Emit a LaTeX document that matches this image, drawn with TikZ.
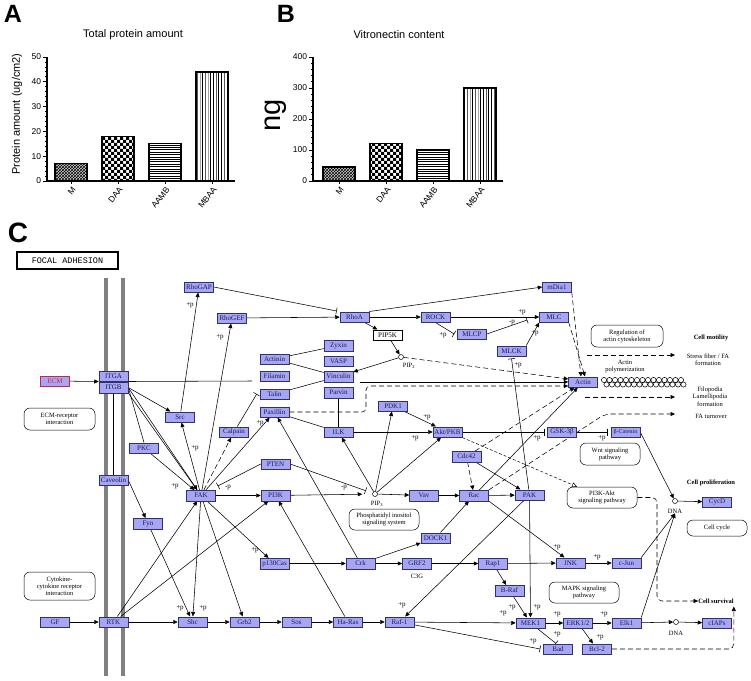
\documentclass[tikz,border=0pt]{standalone}
\usepackage{fontspec}
\setmainfont{Liberation Serif}
\newfontfamily\arialfont{Liberation Sans}
\newfontfamily\courfont{Liberation Mono}
\usepackage{tikz}
\usetikzlibrary{arrows.meta,patterns,backgrounds}
\definecolor{genefill}{HTML}{A6A6F4}
\definecolor{geneline}{HTML}{30306A}
\definecolor{genetext}{HTML}{1A1A5A}
\definecolor{memgray}{HTML}{808080}
\definecolor{ecmred}{HTML}{D0204A}

% bar fillings
\pgfdeclarepatternformonly{finechecker}{\pgfqpoint{-0.5pt}{-0.5pt}}{\pgfqpoint{6.5pt}{6.5pt}}{\pgfqpoint{6pt}{6pt}}{%
  \pgfpathrectangle{\pgfpointorigin}{\pgfqpoint{3.05pt}{3.05pt}}%
  \pgfpathrectangle{\pgfqpoint{3pt}{3pt}}{\pgfqpoint{3.05pt}{3.05pt}}%
  \pgfusepath{fill}}
\pgfdeclarepatternformonly{finehlines}{\pgfqpoint{-1pt}{-0.5pt}}{\pgfqpoint{4pt}{0.5pt}}{\pgfqpoint{3pt}{2.4pt}}{%
  \pgfsetlinewidth{0.5pt}\pgfpathmoveto{\pgfqpoint{-0.1pt}{0pt}}\pgfpathlineto{\pgfqpoint{3.1pt}{0pt}}\pgfusepath{stroke}}
\pgfdeclarepatternformonly{finevlines}{\pgfqpoint{-0.5pt}{-1pt}}{\pgfqpoint{0.5pt}{4pt}}{\pgfqpoint{2.7pt}{3pt}}{%
  \pgfsetlinewidth{0.5pt}\pgfpathmoveto{\pgfqpoint{0pt}{-0.1pt}}\pgfpathlineto{\pgfqpoint{0pt}{3.1pt}}\pgfusepath{stroke}}

\tikzset{
  gene/.style={draw=geneline, fill=genefill, text=genetext, minimum width=29pt, minimum height=10.5pt, inner sep=0pt, line width=0.5pt, font=\fontsize{7}{7}\selectfont},
  cmpd/.style={circle, draw, fill=white, minimum size=5pt, inner sep=0pt, line width=0.5pt},
  mapbox/.style={draw, rounded corners=6pt, align=center, inner sep=1pt, line width=0.5pt, font=\fontsize{6.5}{7}\selectfont},
  act/.style={-{Triangle[length=4.5pt,width=4pt]}, line width=0.55pt},
  inh/.style={-{Bar[width=7pt]}, line width=0.55pt},
  dact/.style={act, dash pattern=on 5pt off 3pt},
  dopen/.style={-{Triangle[open,length=5pt,width=5pt]}, dash pattern=on 3pt off 2pt, line width=0.5pt},
  link/.style={line width=0.55pt},
  plabel/.style={font=\fontsize{7}{7}\selectfont, inner sep=0pt},
  effect/.style={font=\fontsize{6.5}{7}\selectfont, align=center, inner sep=0pt},
  outcome/.style={font=\fontsize{6.5}{7}\selectfont\bfseries, inner sep=0pt},
  membrane/.style={draw=memgray, line width=3.5pt},
  panellabel/.style={font=\arialfont\fontsize{25}{25}\selectfont\bfseries, inner sep=0pt},
  charttitle/.style={font=\arialfont\fontsize{11}{11}\selectfont, inner sep=0pt},
  axisline/.style={line width=1.3pt},
  histbar/.style={draw, line width=1.3pt},
  ticklabel/.style={font=\arialfont\fontsize{8.5}{8.5}\selectfont, inner sep=1pt},
  xlab/.style={font=\arialfont\fontsize{8.5}{8.5}\selectfont, rotate=52, anchor=east, inner sep=0pt},
}

\begin{document}
\begin{tikzpicture}[x=1pt, y=-1pt]
\useasboundingbox (0,0) rectangle (751,680);

%panel A
\node[panellabel] (labA) at (13,14) {A};
\node[charttitle] (titA) at (133,35) {Total protein amount};
\node[charttitle, rotate=90] (ylabA) at (17,114) {Protein amount (ug/cm2)};
\draw[axisline] (47,57) -- (47,181) -- (235,181);
\foreach \v in {0,2,...,50}
  \draw[line width=0.8pt] (47,{181-2.48*\v}) -- ++(-2.5,0);
\foreach \v in {0,10,...,50}
  \draw[line width=1pt] (47,{181-2.48*\v}) -- ++(-4.5,0) node[ticklabel, left] (tickA\v) {\v};
\draw[histbar, preaction={fill=gray!35}, pattern=crosshatch] (55,181) rectangle (87,{181-2.48*7});
\draw[histbar, pattern=finechecker] (102,181) rectangle (134,{181-2.48*18});
\draw[histbar, pattern=finehlines] (149,181) rectangle (181,{181-2.48*15});
\draw[histbar, pattern=finevlines] (196,181) rectangle (228,{181-2.48*44});
\foreach \lab/\xx [count=\i] in {M/71,DAA/118,AAMB/165,MBAA/212}{
  \draw[line width=1pt] (\xx,181) -- ++(0,3);
  \node[xlab] (xlabA\i) at (\xx+3,188) {\lab};
}

%panel B
\node[panellabel] (labB) at (286,14) {B};
\node[charttitle] (titB) at (399,35) {Vitronectin content};
\node[font=\arialfont\fontsize{29}{29}\selectfont, rotate=90, inner sep=0pt] (ylabB) at (276,115) {ng};
\draw[axisline] (313,57) -- (313,181) -- (503,181);
\foreach \v in {0,20,...,400}
  \draw[line width=0.8pt] (313,{181-0.31*\v}) -- ++(-2.5,0);
\foreach \v in {0,100,...,400}
  \draw[line width=1pt] (313,{181-0.31*\v}) -- ++(-4.5,0) node[ticklabel, left] (tickB\v) {\v};
\draw[histbar, preaction={fill=gray!35}, pattern=crosshatch] (323,181) rectangle (355,{181-0.31*45});
\draw[histbar, pattern=finechecker] (370,181) rectangle (402,{181-0.31*120});
\draw[histbar, pattern=finehlines] (417,181) rectangle (449,{181-0.31*100});
\draw[histbar, pattern=finevlines] (464,181) rectangle (496,{181-0.31*300});
\foreach \lab/\xx [count=\i] in {M/339,DAA/386,AAMB/433,MBAA/480}{
  \draw[line width=1pt] (\xx,181) -- ++(0,3);
  \node[xlab] (xlabB\i) at (\xx+3,188) {\lab};
}

%panel C
\node[panellabel, font=\arialfont\fontsize{28}{28}\selectfont\bfseries] (labC) at (18,233) {C};
\node[draw, line width=1.2pt, minimum width=101pt, minimum height=17pt, inner sep=0pt,
      font=\courfont\fontsize{8.5}{8.5}\selectfont] (title) at (67.5,260.5) {FOCAL ADHESION};

% genes
\node[gene, draw=ecmred, text=ecmred] (ecm) at (55,381) {ECM};
\node[gene] (itga) at (113.5,376) {ITGA};
\node[gene] (itgb) at (113.5,387.5) {ITGB};
\node[gene] (rhogap) at (199,287) {RhoGAP};
\node[gene] (rhogef) at (232,318) {RhoGEF};
\node[gene] (src) at (180,417) {Src};
\node[gene] (calpain) at (234,432) {Calpain};
\node[gene] (pkc) at (144,448) {PKC};
\node[gene] (caveolin) at (113.5,480) {Caveolin};
\node[gene] (fak) at (201,495.5) {FAK};
\node[gene] (fyn) at (148,523.5) {Fyn};
\node[gene] (gf) at (55,622) {GF};
\node[gene] (rtk) at (113.5,622) {RTK};
\node[gene] (shc) at (192.5,622) {Shc};
\node[gene] (grb2) at (244.5,622) {Grb2};
\node[gene] (sos) at (296.5,622) {Sos};
\node[gene] (hras) at (348,622) {Ha-Ras};
\node[gene] (raf1) at (399.5,622) {Raf-1};
\node[gene] (rhoa) at (354.5,317) {RhoA};
\node[gene] (rock) at (435.5,317) {ROCK};
\node[gene, fill=white, text=black, draw=black] (pip5k) at (387.5,335) {PIP5K};
\node[gene] (mlcp) at (472,334) {MLCP};
\node[gene] (zyxin) at (338.5,345.5) {Zyxin};
\node[gene] (vasp) at (338.5,361) {VASP};
\node[gene] (actinin) at (274.5,359) {Actinin};
\node[gene] (filamin) at (274.5,376) {Filamin};
\node[gene] (vinculin) at (338.5,376.5) {Vinculin};
\node[gene] (talin) at (274.5,394) {Talin};
\node[gene] (parvin) at (338.5,392.5) {Parvin};
\node[gene] (paxillin) at (274.5,412) {Paxillin};
\node[gene] (pdk1) at (393,406) {PDK1};
\node[gene] (ilk) at (338.5,432) {ILK};
\node[gene] (akt) at (447.5,432) {Akt/PKB};
\node[gene] (mdia) at (557,287) {mDia1};
\node[gene] (mlc) at (554,317) {MLC};
\node[gene] (mlck) at (511.5,351) {MLCK};
\node[gene] (actin) at (583,382) {Actin};
\node[gene] (gsk) at (562,432) {GSK-3β};
\node[gene, font=\fontsize{6}{6}\selectfont] (bcat) at (625.5,432) {β-Catenin};
\node[gene] (pten) at (275.5,464) {PTEN};
\node[gene] (pi3k) at (275.5,495.5) {PI3K};
\node[gene] (vav) at (424,495.5) {Vav};
\node[gene] (rac) at (474,495.5) {Rac};
\node[gene] (cdc42) at (466.5,456.5) {Cdc42};
\node[gene] (dock1) at (435.5,538) {DOCK1};
\node[gene] (p130) at (274.5,563.5) {p130Cas};
\node[gene] (crk) at (360.5,563.5) {Crk};
\node[gene] (grf2) at (417,563.5) {GRF2};
\node[gene] (rap1) at (493,563.5) {Rap1};
\node[gene] (braf) at (509.5,590.5) {B-Raf};
\node[gene] (pak) at (529.5,495) {PAK};
\node[gene] (jnk) at (570.5,563) {JNK};
\node[gene] (cjun) at (626.5,563) {c-Jun};
\node[gene] (mek1) at (530.5,623) {MEK1};
\node[gene] (erk) at (578,623) {ERK1/2};
\node[gene] (elk1) at (626.5,623) {Elk1};
\node[gene] (bad) at (558,649) {Bad};
\node[gene] (bcl2) at (597,649) {Bcl-2};
\node[gene] (cycd) at (717,502) {CycD};
\node[gene] (ciaps) at (717,623) {cIAPs};

% compounds
\node[cmpd] (pip2) at (401,357) {};
\node[effect] (pip2lab) at (409,366) {PIP\textsubscript{2}};
\node[cmpd] (pip3) at (375,494) {};
\node[effect] (pip3lab) at (377,504) {PIP\textsubscript{3}};
\node[cmpd] (dna1) at (675,501) {};
\node[effect] (dnalab1) at (675,511) {DNA};
\node[cmpd] (dna2) at (676,622) {};
\node[effect] (dnalab2) at (676,633) {DNA};
\node[effect] (c3g) at (417,576) {C3G};

% pathway maps
\node[mapbox, minimum width=71pt, minimum height=22pt] (ecmrec) at (59.5,419) {ECM-receptor\\interaction};
\node[mapbox, minimum width=71pt, minimum height=28pt] (cytok) at (59.5,586) {Cytokine-\\cytokine receptor\\interaction};
\node[mapbox, minimum width=72pt, minimum height=22pt] (regact) at (627,336) {Regulation of\\actin cytoskeleton};
\node[mapbox, minimum width=70pt, minimum height=21pt] (phosino) at (384,519.5) {Phosphatidyl inositol\\signaling system};
\node[mapbox, minimum width=60pt, minimum height=22pt] (wnt) at (610,454) {Wnt signaling\\pathway};
\node[mapbox, minimum width=70pt, minimum height=21pt] (pi3kakt) at (602,497.5) {PI3K-Akt\\signaling pathway};
\node[mapbox, minimum width=60pt, minimum height=16pt] (cellcyc) at (717,528) {Cell cycle};
\node[mapbox, minimum width=70pt, minimum height=21pt] (mapk) at (584,592.5) {MAPK signaling\\pathway};

% outcomes
\node[outcome] (motility) at (711,338) {Cell motility};
\node[effect] (stress) at (708,359.5) {Stress fiber / FA\\formation};
\node[effect] (polym) at (625,367) {Actin\\polymerization};
\node[effect, font=\fontsize{6.5}{7.5}\selectfont] (filo) at (710,396.5) {Filopodia\\Lamellipodia\\formation};
\node[effect] (faturn) at (711,416) {FA turnover};
\node[outcome] (prolif) at (711,483) {Cell proliferation};
\node[outcome] (survival) at (716,601) {Cell survival};

% actin filament
\foreach \i in {0,...,14}{
  \draw[line width=0.5pt] (604+5.5*\i,380) circle (2.6);
  \draw[line width=0.5pt] (606.5+5.5*\i,384.5) circle (2.6);
}

% phosphorylation labels
\foreach \px/\py [count=\i] in {190/305,220/337,195/448,175/486,260/423,180/608,203/608,255/550,
    443/335,522/312,535/333,518/365,427/417,415/438,537/438,602/438,557/547,597/557,
    402/605,503/613,512/607,537/607,557/614,604/614,600/637,557/634,533/641}
  \node[plabel] (plus\i) at (\px,\py) {+p};
\node[plabel] (minus1) at (228,488) {-p};
\node[plabel] (minus2) at (344,488) {-p};
\node[plabel] (minus3) at (512,323) {-p};

% free ends
\coordinate (itgcut) at (252,381);
\coordinate (itgmid) at (360,382);
\coordinate (paxbend) at (366,386);
\coordinate (sfstart) at (587,355);
\coordinate (sfend) at (675,355);
\coordinate (filstart) at (585,397);
\coordinate (filend) at (675,397);
\coordinate (fabend) at (605,414);
\coordinate (faend) at (675,414);
\coordinate (survbend) at (657,601);

\begin{scope}[on background layer]
%membrane
\draw[membrane] (106,278) -- (106,676);
\draw[membrane] (123,278) -- (123,676);

%integrin and FAK
\draw[act] (ecm) -- (itga.south west);
\draw[link] (itga.south east) -- (itgcut);
\draw[act] (itgmid) -- (actin.west);
\draw[act] (itgb.east) -- (src);
\draw[act] (itgb.east) -- (fak);
\draw[act] (itgb.south east) -- (fak);
\draw[link] (itgb.east) -- (pkc.north);
\draw[act] (pkc) -- (fak);
\draw[link] (itgb.south) -- (caveolin.north);
\draw[act] (caveolin.east) -- (fyn);
\draw[act] (fyn) -- (shc);
\draw[act] (fak) -- (src);
\draw[act] (src) -- (rhogap);
\draw[act] (fak) -- (rhogef);
\draw[dact] (fak) -- (calpain);
\draw[inh] (calpain) -- ([xshift=-3pt]talin.west);
\draw[act] (fak) -- (paxillin);
\draw[act] (crk) -- (paxillin);
\draw[act] (fak) -- (pi3k);
\draw[inh] (pten.west) -- ([xshift=2pt,yshift=4pt]fak.north east);
\draw[act] (fak) -- (shc);
\draw[act] (fak) -- (grb2);
\draw[act] (fak) -- (p130);
\draw[act] (rtk) -- (fak);
\draw[act] (rtk) -- (pi3k);
\draw[act] (gf) -- (rtk);
\draw[act] (rtk) -- (shc);
\draw[act] (shc) -- (grb2);
\draw[act] (grb2) -- (sos);
\draw[act] (sos) -- (hras);
\draw[act] (hras) -- (raf1);
\draw[act] (hras) -- (pi3k);

%focal adhesion complex
\draw[link] (paxillin) -- (ilk);
\draw[link] (parvin) -- (ilk);
\draw[link] (actinin) -- (zyxin);
\draw[link] (actinin) -- (vinculin);
\draw[link] (talin) -- (vinculin);
\draw[act] (pip2) -- (vinculin);
\draw[act] (pip5k) -- (pip2);
\draw[act] (rhoa) -- (pip5k);
\draw[dact] (pip2) -- ([yshift=3pt]actin.west);
\draw[dact, rounded corners=4pt] (paxillin.east) -| (paxbend) -- ([yshift=-4pt]actin.west);

%Rho
\draw[inh] (rhogap.east) -- ([xshift=-3pt,yshift=6pt]rhoa.west);
\draw[act] (rhogef) -- (rhoa);
\draw[act] (rhoa) -- (rock);
\draw[act] (rhoa.north east) -- (mdia.west);
\draw[act] (rock) -- (mlc);
\draw[inh] (rock.south) -- ([xshift=-3pt]mlcp.west);
\draw[inh] (mlcp.east) -- ([xshift=-12pt,yshift=-3pt]mlc.west);
\draw[act] (mlck.north east) -- (mlc.south west);
\draw[dact] (mdia.south east) -- ([xshift=-2pt]actin.north);
\draw[dact] (mlc.south east) -- ([xshift=2pt]actin.north);
\draw[inh] (pak) -- ([yshift=-2pt]mlck.south);

%PI3K and Akt
\draw[act, shorten >=10pt] (pi3k) -- (pip3);
\draw[inh, shorten >=7pt] (pten.east) -- (pip3);
\draw[act] (pip3) -- (ilk);
\draw[act] (pip3) -- (pdk1);
\draw[act] (pip3) -- (akt);
\draw[act] (pip3) -- (vav);
\draw[act] (pdk1) -- (akt);
\draw[act] (ilk) -- (akt);
\draw[inh] (akt) -- ([xshift=-3pt]gsk.west);
\draw[inh] (gsk) -- ([xshift=-3pt]bcat.west);
\draw[dopen] (akt.south east) -- (pi3kakt);

%Rac, PAK and MAPK
\draw[act] (vav) -- (rac);
\draw[act] (rac) -- (pak);
\draw[dact] (cdc42) -- (rac);
\draw[act] (cdc42) -- (pak);
\draw[dact] (cdc42) -- (actin);
\draw[act] (rac) -- (actin);
\draw[dact, rounded corners=6pt] (rac.north east) -- (fabend) -- (faend);
\draw[act] (crk) -- (dock1);
\draw[act] (dock1) -- (rac);
\draw[act] (p130) -- (crk);
\draw[act] (crk) -- (grf2);
\draw[act] (grf2) -- (rap1);
\draw[act] (rac.south east) -- ([xshift=-6pt]jnk.north);
\draw[act] (rap1) -- (jnk);
\draw[act] (jnk) -- (cjun);
\draw[act] (rap1) -- (braf);
\draw[act] (braf) -- (mek1);
\draw[act] (raf1) -- (mek1);
\draw[act] (pak) -- (mek1);
\draw[act] (pak) -- (raf1);
\draw[act] (mek1) -- (erk);
\draw[act] (erk) -- (elk1);
\draw[act] (elk1) -- (dna2);
\draw[act] (dna2) -- (ciaps);
\draw[act] (erk) -- (bcl2);
\draw[inh] (mek1) -- ([xshift=-2pt]bad.north);
\draw[inh] (raf1) -- ([xshift=-3pt]bad.west);

%nucleus
\draw[act] (bcat.east) -- (dna1);
\draw[act] (cjun.north east) -- (dnalab1.south);
\draw[act] (elk1.north east) -- (dnalab1.south);
\draw[act] (dna1) -- (cycd);

%outcomes
\draw[dact] (sfstart) -- (sfend);
\draw[dact] (filstart) -- (filend);
\draw[dact, rounded corners=5pt] (pi3kakt.east) -| (survbend) -- (survival.west);
\draw[dact, rounded corners=5pt] (bcl2.east) -| ([yshift=-3pt]survival.south east);
\end{scope}

\end{tikzpicture}
\end{document}
